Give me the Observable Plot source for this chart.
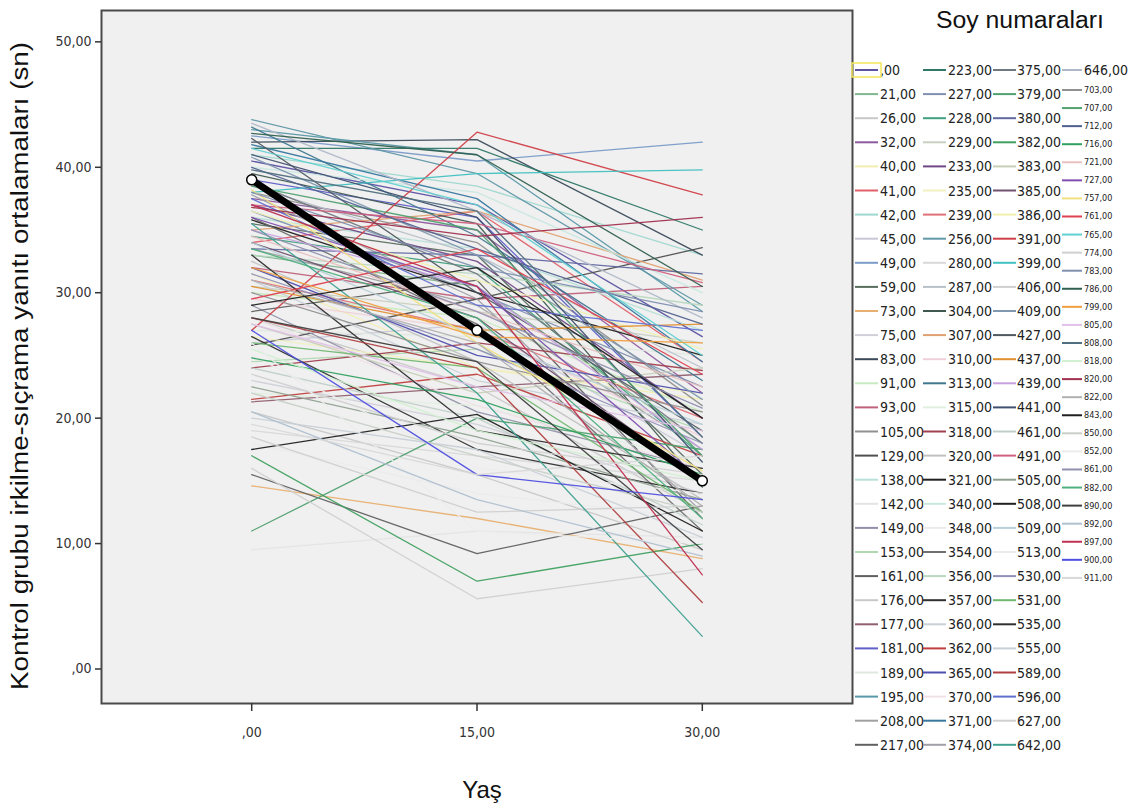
<!DOCTYPE html>
<html><head><meta charset="utf-8">
<script src="https://cdn.jsdelivr.net/npm/d3@7"></script>
<script src="https://cdn.jsdelivr.net/npm/@observablehq/plot@0.6"></script>
<style>
body{margin:0;background:#fff;}
#chart{position:relative;width:1133px;height:808px;}
</style></head><body><div id="chart"></div>
<script>
const ages = [0, 15, 30];
const soyIds = [0,21,26,32,40,41,42,45,49,59,73,75,83,91,93,105,129,138,142,149,153,161,176,177,181,189,195,208,217,
  223,227,228,229,233,235,239,256,280,287,304,307,310,313,315,318,320,321,340,348,354,356,357,360,362,365,370,371,374,
  375,379,380,382,383,385,386,391,399,406,409,427,437,439,441,461,491,505,508,509,513,530,531,535,555,589,596,627,642,
  646,703,707,712,716,721,727,757,761,765,774,783,786,799,805,808,818,820,822,843,850,852,861,882,890,892,897,900,911];
const soyColors = ["#5b52a3","#7fb58f","#c8c8c8","#8e5a9e","#f2eeb0","#e0606a","#9ed8cf","#c8c8d8","#7b9bc8","#5a6e60","#e8b070","#d0d0d8","#3a4a5a","#c8eac0","#c0607a","#909090","#505050","#b8e0d8","#e4e4e4","#9090a8","#b0d8b0","#606060","#c8c8c8","#906070","#6060c8","#dfe8df","#5898a8","#a0a0a0","#606060",
  "#307868","#8090b0","#40a080","#c8d0c0","#704888","#f0f0c0","#e07078","#6098a8","#d8d8d8","#b8c0c8","#405850","#e0a070","#f0d0d8","#407890","#e0efe0","#a04050","#c0c0c0","#202020","#c8e8e0","#ebebeb","#707070","#b8d8c0","#303030","#c8d0d8","#c04040","#5050b0","#f0e0e8","#3878a0","#a0a0a8",
  "#707880","#50a070","#6068a0","#40a060","#c8d0b8","#705070","#f0f0b0","#d04048","#40c0c0","#d0d0d0","#8098b0","#505860","#e09030","#c8a0e0","#405070","#c0d0c8","#d06080","#90a090","#202020","#b8d0d8","#ececec","#9090b8","#70b870","#303030","#c8d0d8","#b04040","#6070d0","#d0d0d0","#40a090",
  "#b0b8c8","#909090","#50a070","#506090","#30a060","#e8c0c0","#8050b0","#f0e080","#e04050","#60d0d0","#d0d0d0","#8090b0","#306050","#f0a040","#e0c0e8","#507080","#d0f0d0","#a03050","#b0b0b0","#202020","#c8d0c8","#ececec","#9090b0","#50b080","#404040","#b0c0d0","#c03050","#5050e0","#d8d8d8"];
const v0 = [40.5,33.0,28.0,37.5,31.5,34.0,41.0,26.0,42.5,35.5,14.6,23.0,42.0,30.0,32.0,38.0,25.8,36.0,9.5,29.0,24.5,15.5,20.5,21.3,39.0,27.0,43.0,33.5,28.5,
  41.5,36.5,34.5,30.5,37.0,26.5,31.0,43.8,19.0,38.5,39.5,35.0,29.5,43.2,22.0,24.0,32.5,35.8,40.0,18.0,36.0,33.0,26.5,31.0,21.5,32.0,28.0,41.8,37.8,
  38.8,11.0,33.5,17.0,27.5,34.0,36.5,27.0,38.0,16.0,40.8,42.3,30.5,35.0,41.0,24.0,37.0,22.5,17.5,34.0,25.0,31.5,26.0,33.0,20.0,28.0,37.5,18.5,35.5,
  43.5,30.0,38.5,40.0,24.8,34.5,36.0,38.2,29.5,41.5,23.5,38.0,42.7,32.0,27.5,39.8,25.5,36.8,31.0,29.0,22.0,26.0,35.0,33.5,28.0,20.5,37.0,27.0,19.5];
const v15 = [37.0,30.5,22.5,35.0,24.0,36.5,38.5,27.5,40.5,33.0,12.0,19.5,42.2,28.0,29.5,34.0,29.5,33.5,11.0,20.5,25.5,9.2,15.5,22.5,36.0,26.5,41.0,29.0,31.0,
  41.5,30.0,32.0,28.5,32.5,24.0,27.0,39.5,17.0,33.0,35.5,36.5,27.0,34.5,21.0,26.0,24.5,30.0,38.0,14.0,27.5,31.5,17.5,23.0,23.5,25.0,21.0,37.5,29.5,
  31.5,20.0,33.0,7.0,22.0,28.0,31.0,42.8,39.5,5.6,33.0,30.0,27.0,30.5,36.0,20.0,35.5,18.5,20.3,26.5,16.0,25.5,24.0,19.0,17.5,24.0,29.0,12.5,22.0,
  36.5,24.5,35.0,33.5,21.5,28.5,30.5,26.0,33.5,37.0,18.0,32.0,41.0,26.5,22.5,36.5,19.0,34.5,26.0,32.0,17.0,11.0,28.5,28.0,24.5,13.5,30.5,15.5,15.5];
const v30 = [26.5,18.0,12.5,22.0,21.5,24.5,33.0,17.0,42.0,15.5,8.8,14.0,33.0,20.5,30.5,21.0,33.6,27.0,10.5,16.0,19.0,13.0,9.5,23.5,18.5,25.0,28.5,17.5,12.0,
  35.0,22.5,17.0,26.0,20.0,22.0,20.0,29.0,15.0,24.0,14.5,31.0,18.5,23.0,16.5,23.8,13.5,25.0,30.0,12.0,11.0,29.0,14.0,19.5,17.0,22.0,16.0,24.5,12.5,
  18.0,17.5,31.5,10.0,24.0,15.0,25.5,37.8,39.8,8.0,21.5,19.0,27.5,17.5,16.5,11.5,30.8,13.5,11.0,19.5,14.0,18.0,12.5,16.0,10.5,5.3,27.0,13.0,2.6,
  28.0,20.5,17.0,27.5,15.5,22.5,15.0,15.8,23.5,25.0,15.5,28.5,30.5,26.0,19.0,18.5,15.0,36.0,13.0,20.0,12.5,10.0,20.8,12.0,9.5,9.0,7.5,13.5,17.0];
const meanValues = [39.0, 27.0, 15.0];
const yTicks = [0, 10, 20, 30, 40, 50];
const yTickLabels = [",00", "10,00", "20,00", "30,00", "40,00", "50,00"];
const xTicks = [0, 15, 30];
const xTickLabels = [",00", "15,00", "30,00"];
const legendTitle = "Soy numaraları";
const yTitle = "Kontrol grubu irkilme-sıçrama yanıtı ortalamaları (sn)";
const xTitle = "Yaş";

const allSeries = [v0, v15, v30];
const rows = [];
soyIds.forEach((id, i) => ages.forEach((a, j) => rows.push({id: String(id), age: a, value: allSeries[j][i]})));
const meanRows = ages.map((a, j) => ({age: a, value: meanValues[j]}));
const label = id => (id === 0 ? "" : String(id)) + ",00";
const narrow = "'Liberation Sans Narrow','DejaVu Sans Condensed',Arial,sans-serif";

const svg = Plot.plot({
  width: 1133, height: 808,
  marginLeft: 101, marginRight: 281, marginTop: 10, marginBottom: 105,
  style: {background: "white", fontFamily: narrow, fontSize: "14px", color: "#222"},
  x: {domain: [-10, 40]},
  y: {domain: [-2.75, 52.5]},
  color: {type: "ordinal", domain: soyIds.map(String), range: soyColors},
  marks: [
    Plot.frame({fill: "#f0f0f0", stroke: null}),
    Plot.line(rows, {x: "age", y: "value", z: "id", stroke: "id", strokeWidth: 1.3, strokeOpacity: 0.95}),
    Plot.line(meanRows, {x: "age", y: "value", stroke: "black", strokeWidth: 7}),
    Plot.dot(meanRows, {x: "age", y: "value", r: 5, fill: "white", stroke: "black", strokeWidth: 1.5}),
    Plot.frame({stroke: "#4a4a4a", strokeWidth: 2}),
    Plot.axisY({ticks: yTicks, tickFormat: d => yTickLabels[yTicks.indexOf(d)], tickSize: 6, tickPadding: 4, label: null, stroke: "#333", strokeWidth: 1.5, fontSize: 14, fill: "#333"}),
    Plot.axisX({ticks: xTicks, tickFormat: d => xTickLabels[xTicks.indexOf(d)], tickSize: 8, tickPadding: 16, label: null, stroke: "#333", strokeWidth: 1.5, fontSize: 14, fill: "#333"})
  ]
});

const s = d3.select(svg);
const titleFont = "'Liberation Sans',Arial,sans-serif";
s.append("text").attr("transform", "translate(28,366) rotate(-90)").attr("text-anchor", "middle")
  .attr("textLength", 648).attr("lengthAdjust", "spacingAndGlyphs")
  .style("font-family", titleFont).style("font-size", "23px").attr("fill", "#111").text(yTitle);
s.append("text").attr("x", 482).attr("y", 798).attr("text-anchor", "middle")
  .style("font-family", titleFont).style("font-size", "24px").attr("fill", "#111").text(xTitle);
s.append("text").attr("x", 1020).attr("y", 28).attr("text-anchor", "middle")
  .attr("textLength", 168).attr("lengthAdjust", "spacingAndGlyphs")
  .style("font-family", titleFont).style("font-size", "23px").attr("fill", "#111").text(legendTitle);

const lg = s.append("g").attr("text-anchor", "start");
const cols = [
  {lx: 855, tx: 880, start: 0},
  {lx: 923, tx: 948, start: 29},
  {lx: 993, tx: 1017, start: 58}
];
cols.forEach(c => {
  for (let k = 0; k < 29; k++) {
    const i = c.start + k;
    const y = 70 + k * 24.1;
    lg.append("line").attr("x1", c.lx).attr("x2", c.lx + 23).attr("y1", y).attr("y2", y)
      .attr("stroke", soyColors[i]).attr("stroke-width", 2);
    lg.append("text").attr("x", c.tx).attr("y", y + 5).attr("text-anchor", "start")
      .style("font-family", narrow).style("font-size", "14px")
      .attr("fill", "#222").text(label(soyIds[i]));
  }
});
lg.append("rect").attr("x", 852).attr("y", 63).attr("width", 29).attr("height", 14)
  .attr("fill", "none").attr("stroke", "#f2e65a").attr("stroke-width", 1.5);
for (let k = 0; k < 29; k++) {
  const i = 87 + k;
  const y = k === 0 ? 70 : 90 + (k - 1) * 18.07;
  lg.append("line").attr("x1", 1062).attr("x2", 1082).attr("y1", y).attr("y2", y)
    .attr("stroke", soyColors[i]).attr("stroke-width", 2);
  lg.append("text").attr("x", 1084).attr("y", y + (k === 0 ? 5 : 3)).attr("text-anchor", "start")
    .style("font-family", narrow)
    .style("font-size", k === 0 ? "14px" : "9px").attr("fill", "#222").text(label(soyIds[i]));
}

document.getElementById("chart").appendChild(svg);
</script></body></html>
